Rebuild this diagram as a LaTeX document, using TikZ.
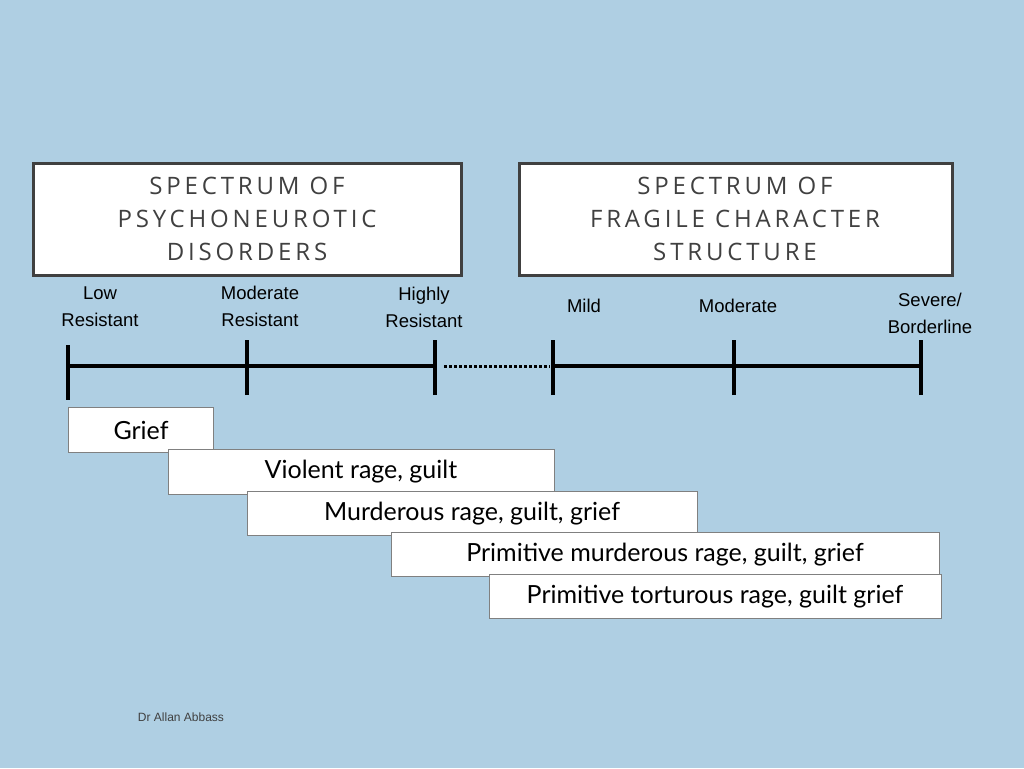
\documentclass[tikz,border=0pt]{standalone}
\usepackage{fontspec}
\setmainfont{Liberation Sans}
\newfontfamily\titlefont[LetterSpace=16]{Open Sans}
\newfontfamily\barfont{Lato}
\definecolor{bgblue}{RGB}{175,207,227}
\definecolor{titlegray}{RGB}{64,64,64}
\tikzset{
    title box/.style={draw=titlegray,line width=3pt,fill=white,inner sep=0pt},
    title text/.style={align=center,text=titlegray,font=\titlefont\fontsize{24}{33}\selectfont},
    scale label/.style={align=center,font=\fontsize{18.5}{27}\selectfont},
    bar/.style={draw=gray,line width=0.8pt,fill=white},
    bar text/.style={font=\barfont\fontsize{25}{28}\selectfont},
    tick/.style={line width=3.5pt},
}
\begin{document}
\begin{tikzpicture}[x=1pt,y=-1pt]
\fill[bgblue] (0,0) rectangle (1024,768);
\useasboundingbox (0,0) rectangle (1024,768);
% title boxes
\draw[title box] (33,163) rectangle (461,275);
\node[title text] (psycho) at (247,219) {SPECTRUM OF\\PSYCHONEUROTIC\\DISORDERS};
\draw[title box] (519,163) rectangle (952,275);
\node[title text] (fragile) at (735,219) {SPECTRUM OF\\FRAGILE CHARACTER\\STRUCTURE};
% scale labels
\node[scale label] (low) at (100,307) {Low\\Resistant};
\node[scale label] (modres) at (260,306) {Moderate\\Resistant};
\node[scale label] (high) at (424,307) {Highly\\Resistant};
\node[scale label] (mild) at (584,306) {Mild};
\node[scale label] (modfr) at (738,306) {Moderate};
\node[scale label] (severe) at (930,313) {Severe/\\Borderline};
% timeline
\coordinate (t1) at (68,366);
\coordinate (t2) at (247,366);
\coordinate (t3) at (435,366);
\coordinate (t4) at (553,366);
\coordinate (t5) at (734,366);
\coordinate (t6) at (921,366);
\draw[tick] (t1) -- (t3);
\draw[line width=3pt,dash pattern=on 3pt off 2pt] ([xshift=9pt]t3) -- ([xshift=-3pt]t4);
\draw[tick] (t4) -- (t6);
\draw[tick] (68,345) -- (68,400);
\foreach \p in {t2,t3,t4,t5,t6}
    \draw[tick] ([yshift=-29pt]\p) -- ([yshift=26pt]\p);
% bars
\draw[bar] (68,407) rectangle (213,452);
\node[bar text] (grief) at (141,430) {Grief};
\draw[bar] (168,449) rectangle (554,494);
\node[bar text] (violent) at (361,472) {Violent rage, guilt};
\draw[bar] (247,491) rectangle (697,535);
\node[bar text] (murder) at (472,514) {Murderous rage, guilt, grief};
\draw[bar] (391,532) rectangle (939,576);
\node[bar text] (primmurder) at (665,555) {Primitive murderous rage, guilt, grief};
\draw[bar] (489,574) rectangle (941,618);
\node[bar text] (primtort) at (715,597) {Primitive torturous rage, guilt grief};
% footer
\node[text=titlegray,font=\fontsize{12}{14}\selectfont] (author) at (181,717) {Dr Allan Abbass};
\end{tikzpicture}
\end{document}
